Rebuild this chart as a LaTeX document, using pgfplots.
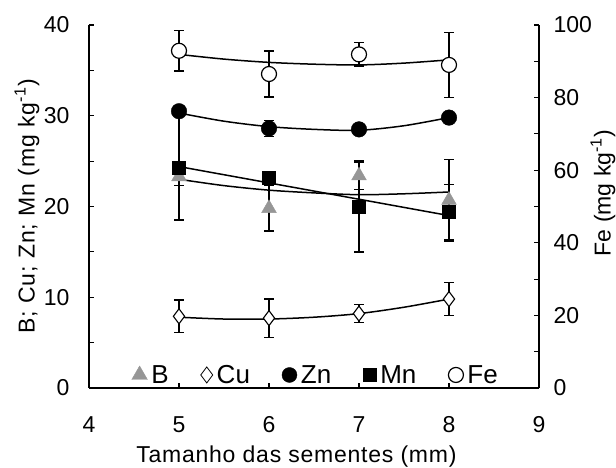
\documentclass[border=0pt]{standalone}
\usepackage{fontspec}
\setmainfont{Liberation Sans}
\usepackage{pgfplots}
\pgfplotsset{compat=1.18}
\definecolor{bgray}{RGB}{150,150,150}
\newcommand{\bigf}{\fontsize{23}{27}\selectfont}
\pgfplotsset{
  common/.style={
    scale only axis, width=450pt, height=363pt,
    at={(0pt,0pt)}, anchor=south west,
    xmin=4, xmax=9,
    tick label style={font=\bigf},
    label style={font=\bigf},
    /pgf/number format/assume math mode=true,
    tick align=inside,
    major tick length=5pt, minor tick length=5pt,
    every tick/.style={black, line width=1.1pt},
    axis line style={line width=1.3pt},
    clip=false,
  },
  ebar/.style={error bars/.cd, y dir=both, y explicit,
    error bar style={line width=1.3pt, black},
    error mark options={rotate=90, mark size=5pt, line width=1.3pt, black}},
}
\begin{document}
\begin{tikzpicture}
\useasboundingbox (-89pt,-80pt) rectangle (527pt,388pt);
\begin{axis}[common,
  ymin=0, ymax=40,
  axis x line*=bottom, axis y line*=left,
  xtick={4,5,6,7,8,9},
  ytick={0,10,20,30,40}, minor ytick={5,15,25,35},
  xticklabel style={yshift=-25pt},
  yticklabel style={xshift=-16pt},
  xlabel={\addfontfeature{LetterSpace=3.3}Tamanho das sementes (mm)},
  xlabel style={at={(axis description cs:0.461,-0.19)}, anchor=center},
  ylabel={\addfontfeature{LetterSpace=4}B; Cu; Zn; Mn (mg kg\textsuperscript{-1})},
  ylabel style={at={(axis description cs:-0.138,0.5)}, anchor=center},
]
% trend lines
\addplot[black, line width=1.5pt, smooth] coordinates {(5,23.0) (5.5,22.3) (6,21.8) (6.5,21.5) (7,21.3) (7.5,21.4) (8,21.6)};
\addplot[black, line width=1.5pt, smooth] coordinates {(5,7.8) (5.5,7.6) (6,7.6) (6.5,7.8) (7,8.2) (7.5,8.9) (8,9.8)};
\addplot[black, line width=1.5pt, smooth] coordinates {(5,30.3) (5.5,29.4) (6,28.8) (6.5,28.5) (7,28.4) (7.5,28.9) (8,29.8)};
\addplot[black, line width=1.5pt] coordinates {(5,24.4) (8,19.0)};
% B
\addplot[only marks, mark=triangle*, mark size=8.5pt, mark options={fill=bgray, draw=bgray}, ebar]
  coordinates {(5,23.3) +- (0,1.0) (6,19.8) +- (0,2.5) (7,23.4) +- (0,1.5) (8,20.7) +- (0,4.5)};
% Cu
\addplot[only marks, mark=diamond*, mark size=7.5pt, mark options={fill=white, draw=black, line width=1.1pt}, ebar]
  coordinates {(5,7.9) +- (0,1.8) (6,7.7) +- (0,2.1) (7,8.2) +- (0,1.0) (8,9.8) +- (0,1.8)};
% Zn
\addplot[only marks, mark=*, mark size=7.8pt, mark options={fill=black, draw=black}, ebar]
  coordinates {(5,30.5) +- (0,0.4) (6,28.6) +- (0,0.9) (7,28.5) +- (0,0.4) (8,29.8) +- (0,0.4)};
% Mn
\addplot[only marks, mark=square*, mark size=6.5pt, mark options={fill=black, draw=black}, ebar]
  coordinates {(5,24.3) +- (0,5.8) (6,23.2) +- (0,0.5) (7,20.0) +- (0,5.0) (8,19.4) +- (0,3.0)};
\end{axis}
\begin{axis}[common,
  ymin=0, ymax=100,
  axis x line=none, axis y line*=right,
  ytick={0,20,40,60,80,100}, minor ytick={10,30,50,70,90},
  yticklabel style={xshift=11pt},
  ylabel={Fe (mg kg\textsuperscript{-1})},
  ylabel style={at={(axis description cs:1.142,0.537)}, anchor=center},
  legend columns=5,
  legend style={draw=none, fill=none, at={(axis description cs:0.504,0.0)}, anchor=south,
    font=\fontsize{26}{30}\selectfont, column sep=30pt, inner sep=1pt,
    /tikz/every odd column/.style={column sep=2pt}},
  legend cell align=left,
]
\addlegendimage{only marks, mark=triangle*, mark size=9pt, mark options={fill=bgray, draw=bgray}}
\addlegendentry{B}
\addlegendimage{only marks, mark=diamond*, mark size=8pt, mark options={fill=white, draw=black, line width=0.8pt}}
\addlegendentry{Cu}
\addlegendimage{only marks, mark=*, mark size=7.5pt, mark options={fill=black, draw=black}}
\addlegendentry{Zn}
\addlegendimage{only marks, mark=square*, mark size=6.5pt, mark options={fill=black, draw=black}}
\addlegendentry{Mn}
\addplot[black, line width=1.5pt, smooth, forget plot] coordinates {(5,91.9) (5.5,90.6) (6,89.7) (6.5,89.2) (7,89.0) (7.5,89.5) (8,90.4)};
\addplot[only marks, mark=*, mark size=7.5pt, mark options={fill=white, draw=black, line width=1.2pt}, ebar]
  coordinates {(5,92.9) +- (0,5.6) (6,86.5) +- (0,6.3) (7,91.9) +- (0,3.2) (8,89.0) +- (0,9.0)};
\addlegendentry{Fe}
\end{axis}
\end{tikzpicture}
\end{document}
